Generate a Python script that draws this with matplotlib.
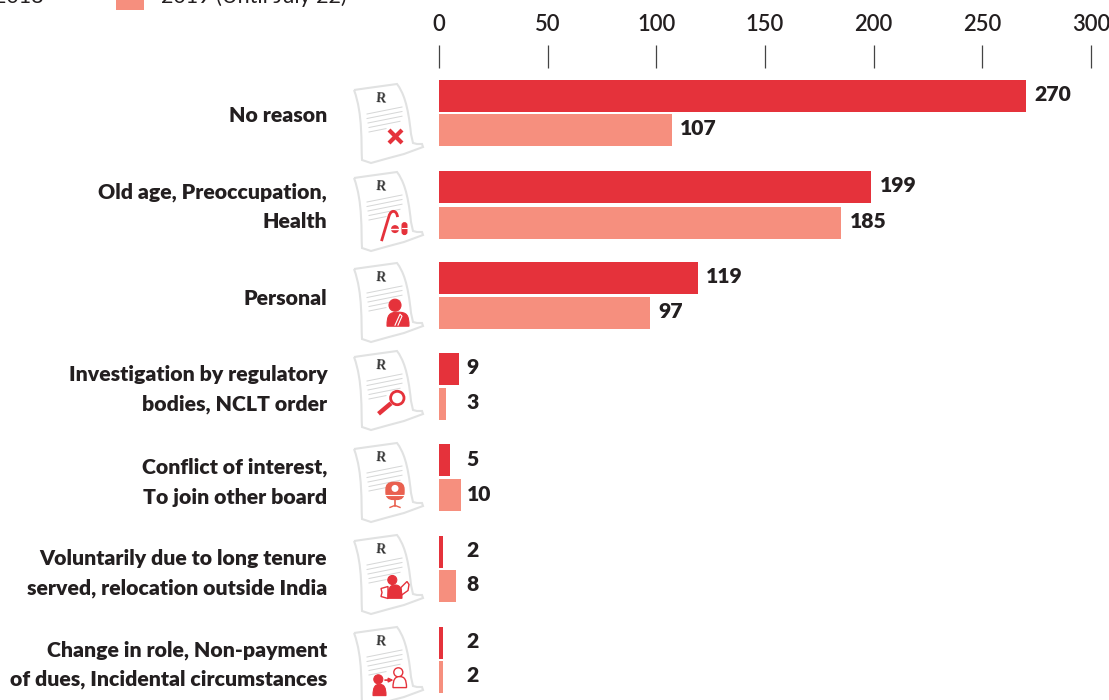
import numpy as np
import matplotlib
matplotlib.use("Agg")
import matplotlib.pyplot as plt
from matplotlib.patches import Circle, FancyBboxPatch, PathPatch, Polygon, Rectangle
from matplotlib.path import Path

plt.rcParams['font.family'] = ['Lato', 'DejaVu Sans']

# Data
reasons = [
    "No reason",
    "Old age, Preoccupation,\nHealth",
    "Personal",
    "Investigation by regulatory\nbodies, NCLT order",
    "Conflict of interest,\nTo join other board",
    "Voluntarily due to long tenure\nserved, relocation outside India",
    "Change in role, Non-payment\nof dues, Incidental circumstances",
]
values_2018 = [270, 199, 119, 9, 5, 2, 2]
values_2019 = [107, 185, 97, 3, 10, 8, 2]
ticks = [0, 50, 100, 150, 200, 250, 300]
legend_labels = ["2018", "2019 (Until July 22)"]

RED = "#e5323b"
SALMON = "#f68f7e"
CHAIR = "#e9604f"
TEXT = "#231f20"
PAPER = "#e1e2e2"
W, H = 1109, 700
STEP = 91.1  # pixels between two groups
DOC_TOPS = [84, 172, 263, 351, 443, 535, 627]  # sheets are not evenly spaced
BAR_GAPS = [2, 3.5, 3, 3, 3, 2, 2]  # pixels between the two bars of a group
LABEL_NUDGE = [-1.7, -2.1, -2.2, -2.5, -3.5, -3.5, -3.7]  # points, vertical shift of the names


def draw_doc(ov, oy):
    # the curled sheet with the R on it, (354, oy) is its top left corner
    def p(x, y):
        return (354 + x, oy + y)
    verts = [p(0, 6), p(14, 4), p(43, 0),
             p(49, 8), p(54, 20), p(57, 50), p(59, 59),
             p(63, 60), p(68, 60), p(69, 63),
             p(50, 70), p(35, 74), p(17, 79),
             p(8, 76), p(7, 60), p(9, 30), p(0, 6)]
    codes = [Path.MOVETO, Path.LINETO, Path.LINETO,
             Path.CURVE4, Path.CURVE4, Path.CURVE4, Path.LINETO,
             Path.LINETO, Path.LINETO, Path.LINETO,
             Path.LINETO, Path.LINETO, Path.LINETO,
             Path.LINETO, Path.CURVE4, Path.CURVE4, Path.CURVE4]
    ov.add_patch(PathPatch(Path(verts, codes), fc="white", ec=PAPER, lw=1.5, zorder=0.5))
    ov.text(*p(27, 15), "R", family="Liberation Serif", weight="bold", fontsize=10,
            color="#333333", ha="center", va="center", rotation=-4)
    for i, (x0, x1) in enumerate([(13, 48), (13, 48), (14, 48), (15, 46), (15, 32)]):
        y0 = 30 + i * 4.5
        ov.plot(*zip(p(x0, y0), p(x1, y0 - (x1 - x0) * 0.2)), color="#d5d6d6", lw=0.7, zorder=0.6)


def person(ov, hx, hy, r, x0, x1, y0, y1, solid=True, color=RED):
    # head and shoulders, filled or only outlined
    fc = color if solid else "white"
    ov.add_patch(Circle((hx, hy), r, fc=fc, ec=color, lw=0.8 if solid else 1))
    mx = (x0 + x1) / 2
    verts = [(x0, y1), (x0, y0 + 3), (x0 + 2, y0), (mx, y0), (x1 - 2, y0), (x1, y0 + 3), (x1, y1), (x0, y1)]
    codes = [Path.MOVETO, Path.CURVE4, Path.CURVE4, Path.CURVE4, Path.CURVE4, Path.CURVE4, Path.CURVE4, Path.CLOSEPOLY]
    ov.add_patch(PathPatch(Path(verts, codes), fc=fc, ec=color, lw=0.8 if solid else 1))


def draw_glyph(ov, kind, oy):
    ox = 354

    def p(x, y):
        return (ox + x, oy + y)

    if kind == "cross":
        ov.plot(*zip(p(35, 46), p(48, 59)), color=RED, lw=3, solid_capstyle="butt")
        ov.plot(*zip(p(48, 46), p(35, 59)), color=RED, lw=3, solid_capstyle="butt")
    elif kind == "cane":
        curve = Path([p(27.5, 66), p(35, 41), p(37, 34), p(43, 35), p(43.5, 42)],
                     [Path.MOVETO, Path.LINETO, Path.CURVE4, Path.CURVE4, Path.CURVE4])
        ov.add_patch(PathPatch(curve, fc="none", ec=RED, lw=2))
        ov.add_patch(Circle(p(41, 54), 4, fc=RED, ec="none"))
        ov.plot(*zip(p(37, 54), p(45, 54)), color="white", lw=1)
        ov.add_patch(FancyBboxPatch(p(47.5, 47), 6, 13, boxstyle="round,pad=0,rounding_size=3",
                                    mutation_scale=1, fc=RED, ec="none"))
        ov.plot(*zip(p(47.5, 53), p(53.5, 53)), color="white", lw=0.8)
    elif kind == "clip":
        person(ov, *p(41, 39), 6, 33 + ox, 55 + ox, 46 + oy, 60 + oy)
        ov.plot(*zip(p(41, 59), p(46, 48), p(48, 50), p(44, 59)), color="white", lw=0.8)
    elif kind == "lens":
        ov.add_patch(Circle(p(43.3, 40.7), 6.7, fc="white", ec=RED, lw=2))
        ov.plot(*zip(p(37, 46), p(24.5, 56.5)), color=RED, lw=3.2, solid_capstyle="butt")
    elif kind == "chair":
        ov.add_patch(FancyBboxPatch(p(32, 34), 18, 17, boxstyle="round,pad=0,rounding_size=7",
                                    mutation_scale=1, fc=CHAIR, ec=CHAIR, lw=1))
        ov.add_patch(Circle(p(41, 40), 3.5, fc="white", ec="none"))
        ov.plot(*zip(p(31, 47), p(51, 47)), color="white", lw=0.8)
        ov.plot(*zip(p(41, 52), p(41, 58)), color=CHAIR, lw=1.2)
        ov.plot(*zip(p(36, 59), p(41, 57), p(46, 59)), color=CHAIR, lw=1)
    elif kind == "wings":
        ov.add_patch(Polygon([p(34, 47), p(27, 49), p(28, 53), p(27, 57), p(34, 59)],
                             fc="white", ec=RED, lw=1))
        ov.add_patch(Polygon([p(47, 48), p(53, 42), p(55, 45), p(54, 51), p(47, 56)],
                             fc="white", ec=RED, lw=1))
        person(ov, *p(38.3, 40.5), 4.5, 34 + ox, 48 + ox, 45.5 + oy, 58.8 + oy)
    elif kind == "swap":
        person(ov, *p(24.3, 48.7), 4.5, 19 + ox, 32 + ox, 53.7 + oy, 65 + oy)
        ov.annotate("", xy=p(39.5, 49.5), xytext=p(31, 49.5),
                    arrowprops=dict(arrowstyle="-|>", color=RED, lw=1.2, mutation_scale=6,
                                    shrinkA=0, shrinkB=0))
        person(ov, *p(44.3, 41.7), 4.5, 39 + ox, 52.5 + ox, 46 + oy, 57 + oy, solid=False)


fig = plt.figure(figsize=(W / 100, H / 100), dpi=100)

# main axes: pixel box 439..1091 wide, 68..700 high
ax = fig.add_axes([439 / W, 0, (1091 - 439) / W, (H - 68) / H])
ax.set_xlim(ticks[0], ticks[-1])
ax.set_ylim(6.443, -0.494)

y = np.arange(len(reasons))
bar_h = 32 / STEP
y_2018 = y - 17 / STEP
y_2019 = y_2018 + (32 + np.array(BAR_GAPS)) / STEP
ax.barh(y_2018, values_2018, height=bar_h, color=RED)
ax.barh(y_2019, values_2019, height=bar_h, color=SALMON)

for i in range(len(reasons)):
    for val, yy in ((values_2018[i], y_2018[i]), (values_2019[i], y_2019[i])):
        # short bars have their labels at one fixed column
        if val > 12:
            anchor, dx = val, 6
        else:
            anchor, dx = 0, 20
        ax.annotate(str(val), xy=(anchor, yy), xytext=(dx, 1), textcoords="offset points",
                    ha="left", va="center", fontsize=15.2, weight="heavy", color=TEXT)

    # category names, right aligned left of the sheets
    ax.annotate(reasons[i], xy=(0, y[i]), xytext=(-80.5, LABEL_NUDGE[i]), textcoords="offset points",
                ha="right", va="center", ma="right", fontsize=15.3, weight="heavy",
                color=TEXT, linespacing=1.65, annotation_clip=False)

for s in ax.spines.values():
    s.set_visible(False)
ax.xaxis.tick_top()
ax.set_xticks(ticks)
ax.tick_params(axis="x", length=16.5, width=0.9, color="#444444", pad=7.5,
               labelsize=15.8, labelcolor=TEXT)
for lab in ax.get_xticklabels():
    lab.set_weight("semibold")
ax.set_yticks([])

# overlay in pixels for the icons and the legend, which is cut by the top edge
ov = fig.add_axes([0, 0, 1, 1], zorder=5)
ov.set_xlim(0, W)
ov.set_ylim(H, 0)
ov.axis("off")

kinds = ["cross", "cane", "clip", "lens", "chair", "wings", "swap"]
for i, kind in enumerate(kinds):
    draw_doc(ov, DOC_TOPS[i])
    draw_glyph(ov, kind, 84 + i * STEP)

ov.add_patch(Rectangle((116, -18), 28, 28, fc=SALMON, ec="none", clip_on=False))
ov.text(-6, 3, legend_labels[0], fontsize=15.5, color=TEXT, ha="left", va="baseline", clip_on=False)
ov.text(161, 3, legend_labels[1], fontsize=15.5, color=TEXT, ha="left", va="baseline", clip_on=False)

fig.savefig("out.png", dpi=100)
